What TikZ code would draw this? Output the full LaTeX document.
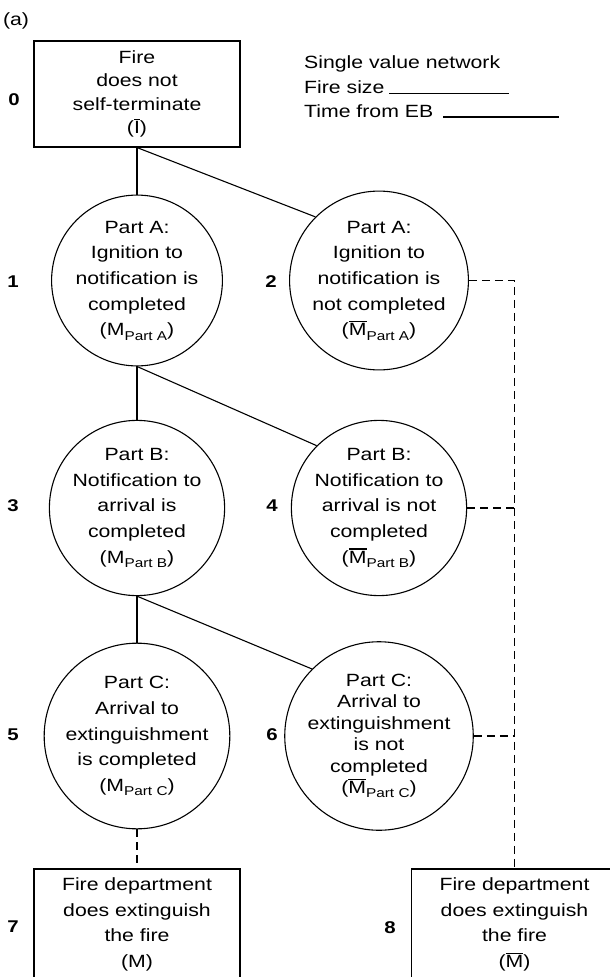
\documentclass[tikz,border=0pt]{standalone}
\usepackage{fontspec}
\setmainfont{Liberation Sans}[FakeStretch=1.2]
\usetikzlibrary{calc}

% letter with a bar over it
\newcommand{\barred}[1]{\leavevmode\vbox{\hrule height 1.1pt\kern 1.6pt\hbox{#1}}}
% lowered small text used as an index
\newcommand{\partsub}[1]{\raisebox{-0.45ex}{\fontsize{12.8}{12.8}\selectfont #1}}

\tikzset{
  stepbox/.style={draw, line width=1.1pt, minimum width=206pt, inner sep=0pt,
    align=center, font=\fontsize{17.7}{25.6}\selectfont},
  state/.style={circle, draw, line width=1.1pt, minimum size=160pt, inner sep=0pt,
    align=center, font=\fontsize{17.7}{25.7}\selectfont},
  tight/.style={font=\fontsize{17.7}{21.4}\selectfont},
  num/.style={font=\fontsize{17}{20}\selectfont\bfseries},
  legend/.style={anchor=base west, inner sep=0pt, font=\fontsize{17.7}{20}\selectfont},
  link/.style={line width=1.1pt},
  dashlink/.style={line width=1.1pt, dash pattern=on 8pt off 5pt},
}

\begin{document}
\begin{tikzpicture}[x=1pt, y=-1pt]
  \fill[white] (0,0) rectangle (610,977);
  \useasboundingbox (0,0) rectangle (610,977);

  \node[font=\fontsize{17.7}{20}\selectfont] (tag) at (16,21) {(a)};

  % top box and legend
  \node[stepbox, minimum height=106pt, font=\fontsize{17.7}{23.5}\selectfont] (n0) at (137,94)
    {Fire\\does not\\self-terminate\\(\barred{I})};

  \node[legend] (lg1) at (304,68) {Single value network};
  \node[legend] (lg2) at (304,93.5) {Fire size};
  \node[legend] (lg3) at (304,117) {Time from EB};
  \coordinate (r1a) at (389,93.5);  \coordinate (r1b) at (509,93.5);
  \coordinate (r2a) at (443,117);   \coordinate (r2b) at (559,117);
  \draw[line width=1.1pt] (r1a) -- (r1b);
  \draw[line width=1.1pt] (r2a) -- (r2b);

  % event nodes
  \node[state] (n1) at (137,280.5)
    {Part A:\\Ignition to\\notification is\\completed\\(M\partsub{Part A})};
  \node[state] (n2) at (379,280.5)
    {Part A:\\Ignition to\\notification is\\not completed\\(\barred{M}\partsub{Part A})};
  \node[state] (n3) at (137,508)
    {Part B:\\Notification to\\arrival is\\completed\\(M\partsub{Part B})};
  \node[state] (n4) at (379,508)
    {Part B:\\Notification to\\arrival is not\\completed\\(\barred{M}\partsub{Part B})};
  \node[state] (n5) at (137,736)
    {Part C:\\Arrival to\\extinguishment\\is completed\\(M\partsub{Part C})};
  \node[state, tight] (n6) at (379,736)
    {Part C:\\Arrival to\\extinguishment\\is not\\completed\\(\barred{M}\partsub{Part C})};

  % outcome boxes
  \node[stepbox, minimum height=111pt] (n7) at (137,924.5)
    {Fire department\\does extinguish\\the fire\\(M)};
  \node[stepbox, minimum height=111pt] (n8) at (514.5,924.5)
    {Fire department\\does extinguish\\the fire\\(\barred{M})};

  % node numbers
  \node[num] (k0) at (14,100) {0};
  \node[num] (k1) at (13,282) {1};
  \node[num] (k2) at (271,282) {2};
  \node[num] (k3) at (13,506) {3};
  \node[num] (k4) at (272,506) {4};
  \node[num] (k5) at (13,735) {5};
  \node[num] (k6) at (272,735) {6};
  \node[num] (k7) at (13,927) {7};
  \node[num] (k8) at (390,928) {8};

  % branches
  \draw[link] (n0.south) -- (n1.north);
  \draw[link] (n0.south) -- (n2.north west);
  \draw[link] (n1.south) -- (n3.north);
  \draw[link] (n1.south) -- (n4.north west);
  \draw[link] (n3.south) -- (n5.north);
  \draw[link] (n3.south) -- (n6.north west);

  % links to the outcomes
  \draw[dashlink] (n5.south) -- (n7.north);
  \draw[dashlink] (n2.east) -- (n2.east -| n8.north) -- (n8.north);
  \draw[dashlink] (n4.east) -- (n4.east -| n8.north);
  \draw[dashlink] (n6.east) -- (n6.east -| n8.north);
\end{tikzpicture}
\end{document}
